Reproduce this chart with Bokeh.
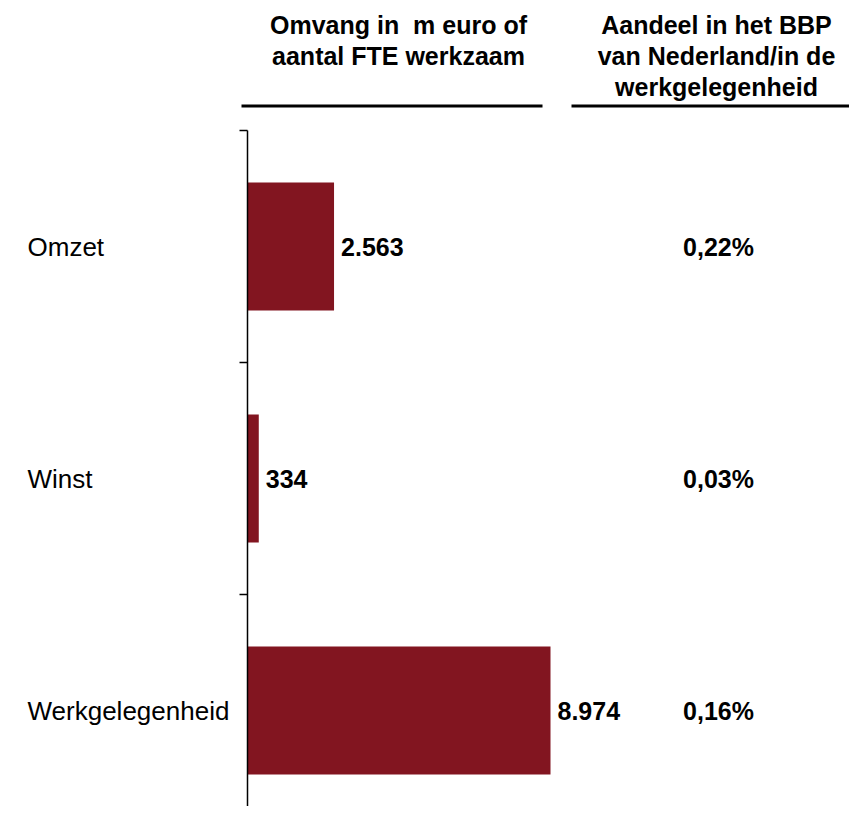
from bokeh.plotting import figure
from bokeh.models import Range1d, LinearAxis, FixedTicker
from bokeh.core.properties import value
from bokeh.embed import file_html
from bokeh.resources import INLINE

# ---- data ----
categories = ["Omzet", "Winst", "Werkgelegenheid"]
values = [2563, 334, 8974]
shares = [0.22, 0.03, 0.16]
header_left = ["Omvang in\u00a0 m euro of", "aantal FTE werkzaam"]
header_right = ["Aandeel in het BBP", "van Nederland/in de", "werkgelegenheid"]

# ---- layout helpers (page pixels -> data units) ----
W, H = 849, 806
PAGE_X0, PAGE_Y0 = 0, 0          # figure origin on screenshot
AXIS_PX = 247                     # x of value 0
TOP_PX = 130                      # y of first band top
BAND_PX = 232                     # pixel height of one category band
MAXBAR_PX = 303                   # pixel length of longest bar
ppu_x = MAXBAR_PX / max(values)

def dx(px):
    return (px - AXIS_PX) / ppu_x

def dy(py):
    return (py - TOP_PX) / BAND_PX

BAR_COLOR = "#821520"
FONT = value("Liberation Sans")

p = figure(width=W, height=H, output_backend="svg", toolbar_location=None,
           x_axis_location=None, y_axis_location=None,
           x_range=Range1d(dx(PAGE_X0), dx(PAGE_X0 + W)),
           y_range=Range1d(dy(PAGE_Y0 + H), dy(PAGE_Y0)),
           min_border=0, outline_line_color=None)
p.grid.visible = False

# axis at value 0
ax = LinearAxis(fixed_location=0, ticker=FixedTicker(ticks=[0, 1, 2, 3]),
                bounds=(0, len(categories)))
ax.major_label_overrides = {0: "", 1: "", 2: "", 3: ""}
ax.major_label_text_font_size = "0px"
ax.major_tick_out = 8
ax.major_tick_in = 0
ax.minor_tick_line_color = None
ax.axis_line_color = "black"
ax.axis_line_width = 1.5
ax.major_tick_line_color = "black"
ax.major_tick_line_width = 1.5
p.add_layout(ax, "left")

centers = [i + 0.5 for i in range(len(categories))]

p.hbar(y=centers, left=0, right=values, height=0.552,
       fill_color=BAR_COLOR, line_color=None)

# category labels (left aligned)
p.text(x=[dx(27)] * len(categories), y=centers, text=categories,
       text_font=FONT, text_font_size="26px", text_color="black",
       text_align="left", text_baseline="middle")

# value labels
val_txt = [f"{v:,}".replace(",", ".") for v in values]
p.text(x=values, y=centers, text=val_txt, x_offset=7,
       text_font=FONT, text_font_size="25px", text_font_style="bold",
       text_color="black", text_align="left", text_baseline="middle")

# share labels
share_txt = [f"{s:.2f}".replace(".", ",") + "%" for s in shares]
p.text(x=[dx(718)] * len(shares), y=centers, text=share_txt,
       text_font=FONT, text_font_size="25px", text_font_style="bold",
       text_color="black", text_align="center", text_baseline="middle")

# headers (y = vertical middle of each text line)
line_mid = [24, 55, 86]
p.text(x=[dx(398)] * len(header_left), y=[dy(b) for b in line_mid[:len(header_left)]],
       text=header_left, text_font=FONT, text_font_size="25px",
       text_font_style="bold", text_color="black",
       text_align="center", text_baseline="middle")
p.text(x=[dx(716)] * len(header_right), y=[dy(b) for b in line_mid[:len(header_right)]],
       text=header_right, text_font=FONT, text_font_size="25px",
       text_font_style="bold", text_color="black",
       text_align="center", text_baseline="middle")

# header underlines
p.segment(x0=[dx(241), dx(571)], y0=[dy(105.5)] * 2,
          x1=[dx(542), dx(866)], y1=[dy(105.5)] * 2,
          line_color="black", line_width=3)

open("out.html", "w").write(file_html(p, INLINE))
